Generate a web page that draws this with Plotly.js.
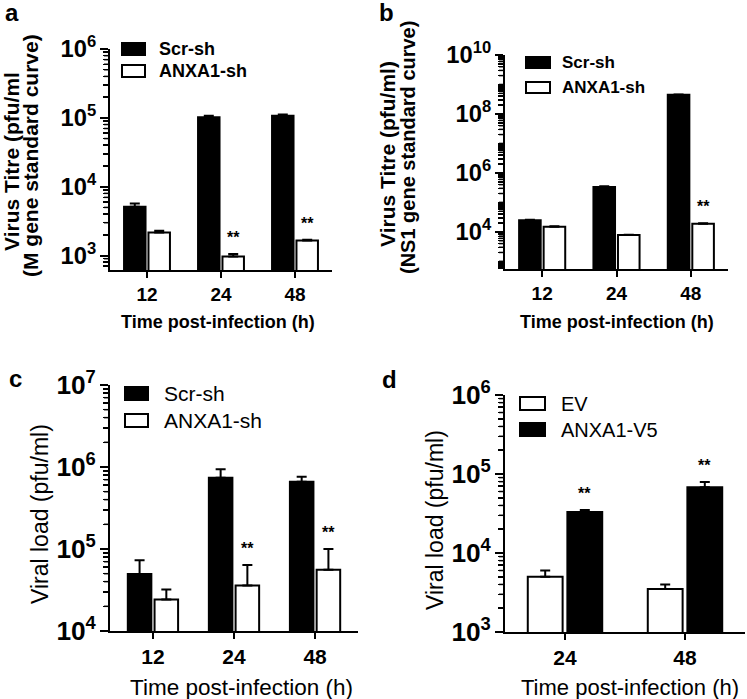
<!DOCTYPE html>
<html><head><meta charset="utf-8">
<script src="https://cdn.plot.ly/plotly-3.0.1.min.js"></script>
<style>html,body{margin:0;padding:0;background:#fff}#chart{width:747px;height:699px}</style>
</head><body><div id="chart"></div>
<script>
// ---------- data ----------
const aTimes = ['12', '24', '48'];
const aScr = [5100, 102000, 107000];
const aScrErr = [600, 5000, 5000];
const aAnx = [2160, 970, 1650];
const aAnxErr = [140, 80, 50];
const aSig = ['', '**', '**'];
const aTickStep = 1;   // major tick every decade (10^3 ... 10^6)

const bTimes = ['12', '24', '48'];
const bScr = [25000, 330000, 450000000];
const bScrErr = [800, 20000, 8000000];
const bAnx = [15000, 7800, 19000];
const bAnxErr = [500, 200, 600];
const bSig = ['', '', '**'];
const bTickStep = 2;   // major tick every two decades (10^4 ... 10^10)

const cTimes = ['12', '24', '48'];
const cScr = [49600, 740000, 660000];
const cScrErr = [23400, 200000, 100000];
const cAnx = [24300, 36000, 56000];
const cAnxErr = [7700, 28000, 44000];
const cSig = ['', '**', '**'];
const cTickStep = 1;   // 10^4 ... 10^7

const dTimes = ['24', '48'];
const dEV = [5000, 3500];
const dEVErr = [1000, 500];
const dAnx = [33000, 68000];
const dAnxErr = [2000, 11000];
const dSig = ['**', '**'];
const dTickStep = 1;   // 10^3 ... 10^6

const seriesShKD = ['Scr-sh', 'ANXA1-sh'];
const seriesOE = ['EV', 'ANXA1-V5'];
const xTitleText = 'Time post-infection (h)';

// ---------- helpers ----------
const W = 747, H = 699;
const fx = p => p / W;
const fy = p => 1 - p / H;
const FONT = 'Arial, "Liberation Sans", Helvetica, sans-serif';
const BARGAP = 0.34;
const zeros = n => new Array(n).fill(0);

function minorVals(lo, hi, withDecades) {
  const v = [];
  for (let n = Math.floor(lo); n <= Math.ceil(hi); n++) {
    for (let k = (withDecades ? 1 : 2); k <= 9; k++) {
      const val = k * Math.pow(10, n);
      const l = Math.log(val) / Math.LN10;
      if (l > lo + 1e-6 && l < hi - 1e-6) v.push(val);
    }
  }
  return v;
}

function bar(x, y, err, fill, name, xa, ya) {
  return {
    type: 'bar', x: x, y: y, name: name, xaxis: xa, yaxis: ya, showlegend: false,
    marker: {color: fill, line: {color: '#000', width: 2}},
    error_y: {type: 'data', symmetric: false, array: err, arrayminus: zeros(err.length),
              color: '#000', thickness: 2, width: 5}
  };
}

const traces = [
  bar(aTimes, aScr, aScrErr, '#000', seriesShKD[0], 'x', 'y'),
  bar(aTimes, aAnx, aAnxErr, '#fff', seriesShKD[1], 'x', 'y'),
  bar(bTimes, bScr, bScrErr, '#000', seriesShKD[0], 'x2', 'y2'),
  bar(bTimes, bAnx, bAnxErr, '#fff', seriesShKD[1], 'x2', 'y2'),
  bar(cTimes, cScr, cScrErr, '#000', seriesShKD[0], 'x3', 'y3'),
  bar(cTimes, cAnx, cAnxErr, '#fff', seriesShKD[1], 'x3', 'y3'),
  bar(dTimes, dEV, dEVErr, '#fff', seriesOE[0], 'x4', 'y4'),
  bar(dTimes, dAnx, dAnxErr, '#000', seriesOE[1], 'x4', 'y4')
];

function xAxis(dom, yanchor, fs, rng) {
  return {
    domain: dom, anchor: yanchor, type: 'category', range: rng,
    showline: true, linecolor: '#000', linewidth: 2, showgrid: false, zeroline: false,
    ticks: 'outside', ticklen: 6, tickwidth: 2, tickcolor: '#000',
    tickfont: {family: FONT, size: fs, color: '#000', weight: 'bold'}
  };
}
function yAxis(dom, xanchor, rng, step, fs) {
  return {
    domain: dom, anchor: xanchor, type: 'log', range: rng,
    showline: true, linecolor: '#000', linewidth: 2, showgrid: false, zeroline: false,
    tickmode: 'linear', tick0: 0, dtick: step,
    exponentformat: 'power', showexponent: 'all',
    ticks: 'outside', ticklen: 8, tickwidth: 2, tickcolor: '#000',
    tickfont: {family: FONT, size: fs, color: '#000', weight: 'bold'},
    minor: {dtick: 'D1', ticks: 'outside', ticklen: 5, tickwidth: 1.5, tickcolor: '#000', showgrid: false}
  };
}

const aRange = [2.79, 6], bRange = [2.74, 10], cRange = [4, 7], dRange = [3, 6];
const aDom = [fy(270), fy(49)], bDom = [fy(269), fy(55)], cDom = [fy(631), fy(385)], dDom = [fy(632), fy(395)];
const aXDom = [fx(110), fx(332)], bXDom = [fx(505), fx(728)], cXDom = [fx(110), fx(358)], dXDom = [fx(505), fx(745)];

const shapes = [];
const annotations = [];

// extra minor log ticks as short lines along each y axis (positions from the axis range/domain)
function minorTicks(xDom, yDom, rng, withDecades) {
  const xr = xDom[0] - 1 / W, xl = xDom[0] - 6 / W;
  const vals = minorVals(rng[0], rng[1], withDecades);
  for (let i = 0; i < vals.length; i++) {
    const f = (Math.log(vals[i]) / Math.LN10 - rng[0]) / (rng[1] - rng[0]);
    const yy = yDom[0] + f * (yDom[1] - yDom[0]);
    shapes.push({type: 'line', xref: 'paper', yref: 'paper', layer: 'above',
      x0: xl, x1: xr, y0: yy, y1: yy, line: {color: '#000', width: 1.5}});
  }
}
minorTicks(aXDom, aDom, aRange, false);
minorTicks(bXDom, bDom, bRange, true);
minorTicks(cXDom, cDom, cRange, false);
minorTicks(dXDom, dDom, dRange, false);

function txt(t, x, y, size, bold, opts) {
  return Object.assign({
    text: t, x: fx(x), y: fy(y), xref: 'paper', yref: 'paper', showarrow: false,
    xanchor: 'center', yanchor: 'middle',
    font: {family: FONT, size: size, color: '#000', weight: bold ? 'bold' : 'normal'}
  }, opts || {});
}

// panel letters
annotations.push(txt('a', 12, 13, 24, true));
annotations.push(txt('b', 386, 13, 24, true));
annotations.push(txt('c', 15, 378, 24, true));
annotations.push(txt('d', 389, 379, 24, true));

// y titles
annotations.push(txt('Virus Titre (pfu/ml', 11, 162, 21, true, {textangle: -90}));
annotations.push(txt('(M gene standard curve)', 30, 156, 21, true, {textangle: -90}));
annotations.push(txt('Virus Titre (pfu/ml)', 388, 154, 21, true, {textangle: -90}));
annotations.push(txt('(NS1 gene standard curve)', 408, 148, 20, true, {textangle: -90}));
annotations.push(txt('Viral load (pfu/ml)', 40, 514, 23, false, {textangle: -90}));
annotations.push(txt('Viral load (pfu/ml)', 435, 520, 23, false, {textangle: -90}));

// x titles
annotations.push(txt(xTitleText, 218, 322, 18, true));
annotations.push(txt(xTitleText, 617, 322, 18, true));
annotations.push(txt(xTitleText, 242, 687, 22.5, false));
annotations.push(txt(xTitleText, 630, 687, 22, false));

// manual legends (swatch + label)
function legendItem(x0, y0, w, h, fill, label, tx, size, bold) {
  shapes.push({type: 'rect', xref: 'paper', yref: 'paper',
    x0: fx(x0), x1: fx(x0 + w), y0: fy(y0 + h), y1: fy(y0),
    fillcolor: fill, line: {color: '#000', width: 2}});
  annotations.push(txt(label, tx, y0 + h / 2, size, bold, {xanchor: 'left'}));
}
legendItem(122, 43, 23, 12, '#000', seriesShKD[0], 157, 18, true);
legendItem(122, 65, 23, 12, '#fff', seriesShKD[1], 157, 18, true);
legendItem(526, 57, 24, 11, '#000', seriesShKD[0], 560, 17, true);
legendItem(526, 82, 24, 11, '#fff', seriesShKD[1], 560, 17, true);
legendItem(125, 387, 23, 13, '#000', seriesShKD[0], 162, 21, false);
legendItem(125, 414, 23, 13, '#fff', seriesShKD[1], 162, 21, false);
legendItem(520, 397, 25, 13, '#fff', seriesOE[0], 559, 20, false);
legendItem(520, 423, 25, 13, '#000', seriesOE[1], 559, 20, false);

// significance marks above bars (second bar of each group)
const offs = (1 - BARGAP) / 4;
function sigMarks(sig, vals, errs, xa, ya, side) {
  sig.forEach((s, i) => {
    if (!s) return;
    annotations.push({
      text: s, xref: xa, yref: ya, x: i + side * offs, y: Math.log(vals[i] + errs[i]) / Math.LN10,
      showarrow: false, xanchor: 'center', yanchor: 'bottom', yshift: 6,
      font: {family: FONT, size: 16, color: '#000', weight: 'bold'}
    });
  });
}
sigMarks(aSig, aAnx, aAnxErr, 'x', 'y', 1);
sigMarks(bSig, bAnx, bAnxErr, 'x2', 'y2', 1);
sigMarks(cSig, cAnx, cAnxErr, 'x3', 'y3', 1);
sigMarks(dSig, dAnx, dAnxErr, 'x4', 'y4', 1);

const layout = {
  width: W, height: H, margin: {l: 0, r: 0, t: 0, b: 0},
  paper_bgcolor: '#fff', plot_bgcolor: 'rgba(0,0,0,0)',
  barmode: 'group', bargap: BARGAP, bargroupgap: 0.12,
  font: {family: FONT, color: '#000'},
  xaxis:  xAxis(aXDom, 'y', 19, [-0.5, 2.5]),
  yaxis:  yAxis(aDom, 'x', aRange, aTickStep, 19),
  xaxis2: xAxis(bXDom, 'y2', 19, [-0.5, 2.5]),
  yaxis2: yAxis(bDom, 'x2', bRange, bTickStep, 19),
  xaxis3: xAxis(cXDom, 'y3', 21, [-0.53, 2.53]),
  yaxis3: yAxis(cDom, 'x3', cRange, cTickStep, 21),
  xaxis4: xAxis(dXDom, 'y4', 21, [-0.5, 1.5]),
  yaxis4: yAxis(dDom, 'x4', dRange, dTickStep, 21),
  shapes: shapes,
  annotations: annotations
};

Plotly.newPlot('chart', traces, layout, {staticPlot: true, displayModeBar: false});
</script>
</body></html>
